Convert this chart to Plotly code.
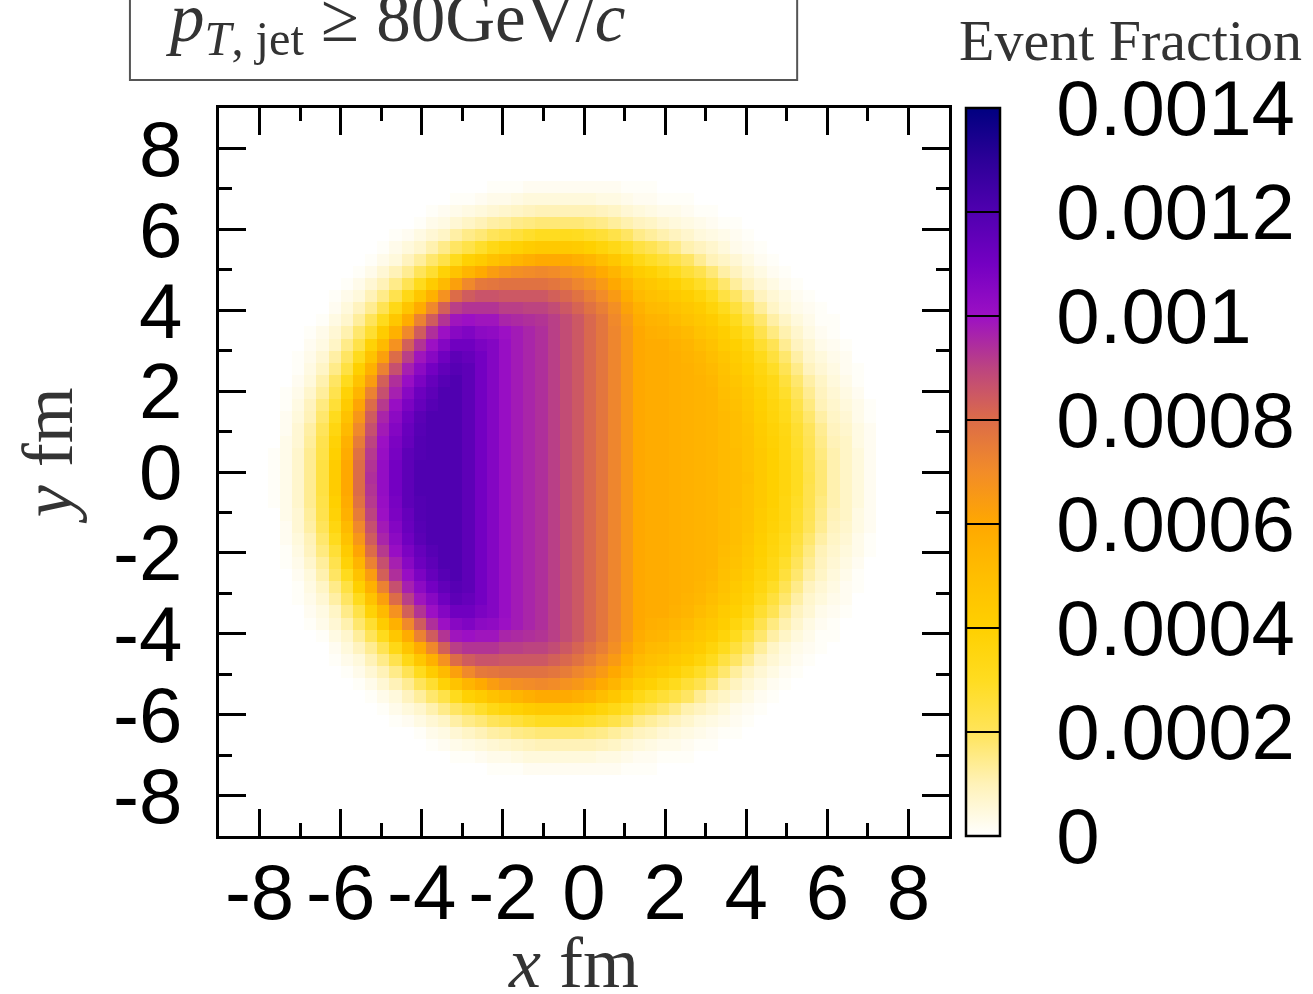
import plotly.graph_objects as go

# ---------------- data ----------------
X_FIRST_BIN_CENTER_FM = -8.85
Y_FIRST_BIN_CENTER_FM = -8.85
BIN_WIDTH_FM = 0.3
VALUE_UNIT = 1e-5   # stored values are event fraction in units of 1e-5

# rows from top (y = +8.85 fm) to bottom (y = -8.85 fm); columns x = -8.85 ... +8.85 fm
EVENT_FRACTION_E5_ROWS = [
    "0 0 0 0 0 0 0 0 0 0 0 0 0 0 0 0 0 0 0 0 0 0 0 0 0 0 0 0 0 0 0 0 0 0 0 0 0 0 0 0 0 0 0 0 0 0 0 0 0 0 0 0 0 0 0 0 0 0 0 0",
    "0 0 0 0 0 0 0 0 0 0 0 0 0 0 0 0 0 0 0 0 0 0 0 0 0 0 0 0 0 0 0 0 0 0 0 0 0 0 0 0 0 0 0 0 0 0 0 0 0 0 0 0 0 0 0 0 0 0 0 0",
    "0 0 0 0 0 0 0 0 0 0 0 0 0 0 0 0 0 0 0 0 0 0 0 0 0 0 0 0 0 0 0 0 0 0 0 0 0 0 0 0 0 0 0 0 0 0 0 0 0 0 0 0 0 0 0 0 0 0 0 0",
    "0 0 0 0 0 0 0 0 0 0 0 0 0 0 0 0 0 0 0 0 0 0 0 0 0 0 0 0 0 0 0 0 0 0 0 0 0 0 0 0 0 0 0 0 0 0 0 0 0 0 0 0 0 0 0 0 0 0 0 0",
    "0 0 0 0 0 0 0 0 0 0 0 0 0 0 0 0 0 0 0 0 0 0 0 0 0 0 0 0 0 0 0 0 0 0 0 0 0 0 0 0 0 0 0 0 0 0 0 0 0 0 0 0 0 0 0 0 0 0 0 0",
    "0 0 0 0 0 0 0 0 0 0 0 0 0 0 0 0 0 0 0 0 0 0 0 0 0 0 0 0 0 0 0 0 0 0 0 0 0 0 0 0 0 0 0 0 0 0 0 0 0 0 0 0 0 0 0 0 0 0 0 0",
    "0 0 0 0 0 0 0 0 0 0 0 0 0 0 0 0 0 0 0 0 0 0 1 1 1 2 2 2 2 2 2 2 2 1 1 1 0 0 0 0 0 0 0 0 0 0 0 0 0 0 0 0 0 0 0 0 0 0 0 0",
    "0 0 0 0 0 0 0 0 0 0 0 0 0 0 0 0 0 0 0 1 1 2 3 3 4 5 5 5 5 5 5 4 4 3 2 2 1 1 1 0 0 0 0 0 0 0 0 0 0 0 0 0 0 0 0 0 0 0 0 0",
    "0 0 0 0 0 0 0 0 0 0 0 0 0 0 0 0 0 1 2 3 4 5 6 7 8 9 10 10 10 10 10 9 8 6 5 4 3 3 2 1 1 0 0 0 0 0 0 0 0 0 0 0 0 0 0 0 0 0 0 0",
    "0 0 0 0 0 0 0 0 0 0 0 0 0 0 0 0 1 3 4 6 8 10 12 13 15 16 17 17 17 17 16 15 13 11 9 8 6 5 4 3 2 1 1 0 0 0 0 0 0 0 0 0 0 0 0 0 0 0 0 0",
    "0 0 0 0 0 0 0 0 0 0 0 0 0 0 1 2 4 6 8 12 15 17 20 22 25 28 30 30 31 30 28 26 23 19 15 13 11 9 7 5 4 3 2 1 0 0 0 0 0 0 0 0 0 0 0 0 0 0 0 0",
    "0 0 0 0 0 0 0 0 0 0 0 0 0 1 3 5 7 11 15 19 23 28 33 37 39 42 44 44 44 43 40 37 33 29 24 21 18 15 11 9 7 5 3 2 1 0 0 0 0 0 0 0 0 0 0 0 0 0 0 0",
    "0 0 0 0 0 0 0 0 0 0 0 0 1 3 5 9 13 18 23 31 39 43 48 51 54 57 59 59 59 57 54 50 45 39 33 29 26 23 19 14 10 8 6 4 2 1 0 0 0 0 0 0 0 0 0 0 0 0 0 0",
    "0 0 0 0 0 0 0 0 0 0 0 1 3 6 10 14 20 27 38 47 54 59 64 67 69 70 71 70 68 66 63 59 54 48 42 39 35 31 26 22 17 12 9 6 4 2 1 0 0 0 0 0 0 0 0 0 0 0 0 0",
    "0 0 0 0 0 0 0 0 0 0 1 3 6 10 15 21 31 42 52 63 71 76 77 78 78 78 78 77 75 72 69 65 60 54 48 45 42 39 34 29 24 18 13 9 6 4 2 1 0 0 0 0 0 0 0 0 0 0 0 0",
    "0 0 0 0 0 0 0 0 0 1 3 5 10 15 22 33 45 56 68 80 84 86 86 85 85 85 85 83 81 78 74 70 65 58 52 49 47 44 41 37 31 24 19 14 9 6 4 2 1 0 0 0 0 0 0 0 0 0 0 0",
    "0 0 0 0 0 0 0 0 0 2 5 9 14 21 33 46 58 71 83 91 93 93 93 91 91 90 90 88 85 82 78 74 69 62 56 52 51 48 45 42 37 31 25 19 13 8 5 3 2 1 0 0 0 0 0 0 0 0 0 0",
    "0 0 0 0 0 0 0 0 1 4 7 13 20 31 45 58 73 84 93 99 100 99 99 96 95 94 93 91 88 85 81 77 71 65 58 55 54 51 48 45 42 37 31 24 18 12 8 5 3 1 1 0 0 0 0 0 0 0 0 0",
    "0 0 0 0 0 0 0 1 3 6 11 18 27 42 56 71 84 94 100 105 107 104 103 100 98 96 94 91 88 85 81 77 72 66 60 57 56 54 52 48 45 41 36 30 22 16 11 7 4 2 1 0 0 0 0 0 0 0 0 0",
    "0 0 0 0 0 0 0 2 4 8 15 23 38 52 68 83 93 100 106 111 111 108 106 101 98 96 94 91 88 85 81 77 72 66 60 58 58 56 54 51 48 43 40 35 27 21 14 9 6 3 2 1 0 0 0 0 0 0 0 0",
    "0 0 0 0 0 0 1 3 6 12 19 31 47 63 80 91 99 105 111 116 114 110 106 101 98 96 94 91 88 85 81 77 72 66 60 58 58 57 55 53 50 46 42 38 32 25 18 12 7 5 3 2 0 0 0 0 0 0 0 0",
    "0 0 0 0 0 0 1 4 8 15 24 40 56 73 87 97 104 110 115 118 116 110 106 101 98 96 94 91 88 85 81 77 72 66 60 58 58 57 56 54 52 48 44 40 35 29 21 15 9 6 4 2 1 0 0 0 0 0 0 0",
    "0 0 0 0 0 0 2 5 11 19 31 47 64 83 94 101 108 114 118 120 116 110 106 101 98 96 94 91 88 85 81 77 72 66 60 58 58 57 56 55 53 49 46 42 37 33 25 18 12 8 5 3 1 0 0 0 0 0 0 0",
    "0 0 0 0 0 1 3 7 13 22 38 54 73 87 97 105 112 116 120 120 116 110 106 101 98 96 94 91 88 85 81 77 72 66 60 58 58 57 56 55 54 50 48 44 39 34 28 20 14 9 6 4 2 0 0 0 0 0 0 0",
    "0 0 0 0 0 1 4 9 16 26 43 61 80 92 101 108 114 118 120 120 116 110 106 101 98 96 94 91 88 85 81 77 72 66 60 58 58 57 56 55 54 51 49 45 40 36 31 23 16 10 7 5 3 1 0 0 0 0 0 0",
    "0 0 0 0 0 2 5 10 18 31 48 66 84 96 104 111 117 120 120 120 116 110 106 101 98 96 94 91 88 85 81 77 72 66 60 58 58 57 56 55 54 52 50 46 41 37 32 25 18 12 8 6 3 1 0 0 0 0 0 0",
    "0 0 0 0 0 2 6 12 20 35 52 71 87 98 106 113 118 120 120 120 116 110 106 101 98 96 94 91 88 85 81 77 72 66 60 58 58 57 56 55 54 52 50 47 42 38 34 27 20 14 9 7 4 2 0 0 0 0 0 0",
    "0 0 0 0 0 3 6 13 22 38 56 75 90 100 108 114 119 120 120 120 116 110 106 101 98 96 94 91 88 85 81 77 72 66 60 58 58 57 56 55 54 52 50 48 43 39 35 28 21 15 10 8 4 2 0 0 0 0 0 0",
    "0 0 0 0 1 3 7 14 23 40 58 78 92 101 109 116 119 120 120 120 116 110 106 101 98 96 94 91 88 85 81 77 72 66 60 58 58 57 56 55 54 52 51 48 44 40 35 29 22 16 11 8 5 2 0 0 0 0 0 0",
    "0 0 0 0 1 3 7 14 24 42 60 80 93 102 110 116 120 120 120 120 116 110 106 101 98 96 94 91 88 85 81 77 72 66 60 58 58 57 56 55 54 52 51 48 44 40 36 30 22 17 11 8 5 2 0 0 0 0 0 0",
    "0 0 0 0 1 3 7 14 24 42 60 80 94 102 110 116 120 120 120 120 116 110 106 101 98 96 94 91 88 85 81 77 72 66 60 58 58 57 56 55 54 52 51 49 44 40 36 30 23 17 11 8 5 2 0 0 0 0 0 0",
    "0 0 0 0 1 3 7 14 24 42 60 80 93 102 110 116 120 120 120 120 116 110 106 101 98 96 94 91 88 85 81 77 72 66 60 58 58 57 56 55 54 52 51 48 44 40 36 30 22 17 11 8 5 2 0 0 0 0 0 0",
    "0 0 0 0 1 3 7 14 23 40 58 78 92 101 109 116 119 120 120 120 116 110 106 101 98 96 94 91 88 85 81 77 72 66 60 58 58 57 56 55 54 52 51 48 44 40 35 29 22 16 11 8 5 2 0 0 0 0 0 0",
    "0 0 0 0 0 3 6 13 22 38 56 75 90 100 108 114 119 120 120 120 116 110 106 101 98 96 94 91 88 85 81 77 72 66 60 58 58 57 56 55 54 52 50 48 43 39 35 28 21 15 10 8 4 2 0 0 0 0 0 0",
    "0 0 0 0 0 2 6 12 20 35 52 71 87 98 106 113 118 120 120 120 116 110 106 101 98 96 94 91 88 85 81 77 72 66 60 58 58 57 56 55 54 52 50 47 42 38 34 27 20 14 9 7 4 2 0 0 0 0 0 0",
    "0 0 0 0 0 2 5 10 18 31 48 66 84 96 104 111 117 120 120 120 116 110 106 101 98 96 94 91 88 85 81 77 72 66 60 58 58 57 56 55 54 52 50 46 41 37 32 25 18 12 8 6 3 1 0 0 0 0 0 0",
    "0 0 0 0 0 1 4 9 16 26 43 61 80 92 101 108 114 118 120 120 116 110 106 101 98 96 94 91 88 85 81 77 72 66 60 58 58 57 56 55 54 51 49 45 40 36 31 23 16 10 7 5 3 1 0 0 0 0 0 0",
    "0 0 0 0 0 1 3 7 13 22 38 54 73 87 97 105 112 116 120 120 116 110 106 101 98 96 94 91 88 85 81 77 72 66 60 58 58 57 56 55 54 50 48 44 39 34 28 20 14 9 6 4 2 0 0 0 0 0 0 0",
    "0 0 0 0 0 0 2 5 11 19 31 47 64 83 94 101 108 114 118 120 116 110 106 101 98 96 94 91 88 85 81 77 72 66 60 58 58 57 56 55 53 49 46 42 37 33 25 18 12 8 5 3 1 0 0 0 0 0 0 0",
    "0 0 0 0 0 0 1 4 8 15 24 40 56 73 87 97 104 110 115 118 116 110 106 101 98 96 94 91 88 85 81 77 72 66 60 58 58 57 56 54 52 48 44 40 35 29 21 15 9 6 4 2 1 0 0 0 0 0 0 0",
    "0 0 0 0 0 0 1 3 6 12 19 31 47 63 80 91 99 105 111 116 114 110 106 101 98 96 94 91 88 85 81 77 72 66 60 58 58 57 55 53 50 46 42 38 32 25 18 12 7 5 3 2 0 0 0 0 0 0 0 0",
    "0 0 0 0 0 0 0 2 4 8 15 23 38 52 68 83 93 100 106 111 111 108 106 101 98 96 94 91 88 85 81 77 72 66 60 58 58 56 54 51 48 43 40 35 27 21 14 9 6 3 2 1 0 0 0 0 0 0 0 0",
    "0 0 0 0 0 0 0 1 3 6 11 18 27 42 56 71 84 94 100 105 107 104 103 100 98 96 94 91 88 85 81 77 72 66 60 57 56 54 52 48 45 41 36 30 22 16 11 7 4 2 1 0 0 0 0 0 0 0 0 0",
    "0 0 0 0 0 0 0 0 1 4 7 13 20 31 45 58 73 84 93 99 100 99 99 96 95 94 93 91 88 85 81 77 71 65 58 55 54 51 48 45 42 37 31 24 18 12 8 5 3 1 1 0 0 0 0 0 0 0 0 0",
    "0 0 0 0 0 0 0 0 0 2 5 9 14 21 33 46 58 71 83 91 93 93 93 91 91 90 90 88 85 82 78 74 69 62 56 52 51 48 45 42 37 31 25 19 13 8 5 3 2 1 0 0 0 0 0 0 0 0 0 0",
    "0 0 0 0 0 0 0 0 0 1 3 5 10 15 22 33 45 56 68 80 84 86 86 85 85 85 85 83 81 78 74 70 65 58 52 49 47 44 41 37 31 24 19 14 9 6 4 2 1 0 0 0 0 0 0 0 0 0 0 0",
    "0 0 0 0 0 0 0 0 0 0 1 3 6 10 15 21 31 42 52 63 71 76 77 78 78 78 78 77 75 72 69 65 60 54 48 45 42 39 34 29 24 18 13 9 6 4 2 1 0 0 0 0 0 0 0 0 0 0 0 0",
    "0 0 0 0 0 0 0 0 0 0 0 1 3 6 10 14 20 27 38 47 54 59 64 67 69 70 71 70 68 66 63 59 54 48 42 39 35 31 26 22 17 12 9 6 4 2 1 0 0 0 0 0 0 0 0 0 0 0 0 0",
    "0 0 0 0 0 0 0 0 0 0 0 0 1 3 5 9 13 18 23 31 39 43 48 51 54 57 59 59 59 57 54 50 45 39 33 29 26 23 19 14 10 8 6 4 2 1 0 0 0 0 0 0 0 0 0 0 0 0 0 0",
    "0 0 0 0 0 0 0 0 0 0 0 0 0 1 3 5 7 11 15 19 23 28 33 37 39 42 44 44 44 43 40 37 33 29 24 21 18 15 11 9 7 5 3 2 1 0 0 0 0 0 0 0 0 0 0 0 0 0 0 0",
    "0 0 0 0 0 0 0 0 0 0 0 0 0 0 1 2 4 6 8 12 15 17 20 22 25 28 30 30 31 30 28 26 23 19 15 13 11 9 7 5 4 3 2 1 0 0 0 0 0 0 0 0 0 0 0 0 0 0 0 0",
    "0 0 0 0 0 0 0 0 0 0 0 0 0 0 0 0 1 3 4 6 8 10 12 13 15 16 17 17 17 17 16 15 13 11 9 8 6 5 4 3 2 1 1 0 0 0 0 0 0 0 0 0 0 0 0 0 0 0 0 0",
    "0 0 0 0 0 0 0 0 0 0 0 0 0 0 0 0 0 1 2 3 4 5 6 7 8 9 10 10 10 10 10 9 8 6 5 4 3 3 2 1 1 0 0 0 0 0 0 0 0 0 0 0 0 0 0 0 0 0 0 0",
    "0 0 0 0 0 0 0 0 0 0 0 0 0 0 0 0 0 0 0 1 1 2 3 3 4 5 5 5 5 5 5 4 4 3 2 2 1 1 1 0 0 0 0 0 0 0 0 0 0 0 0 0 0 0 0 0 0 0 0 0",
    "0 0 0 0 0 0 0 0 0 0 0 0 0 0 0 0 0 0 0 0 0 0 1 1 1 2 2 2 2 2 2 2 2 1 1 1 0 0 0 0 0 0 0 0 0 0 0 0 0 0 0 0 0 0 0 0 0 0 0 0",
    "0 0 0 0 0 0 0 0 0 0 0 0 0 0 0 0 0 0 0 0 0 0 0 0 0 0 0 0 0 0 0 0 0 0 0 0 0 0 0 0 0 0 0 0 0 0 0 0 0 0 0 0 0 0 0 0 0 0 0 0",
    "0 0 0 0 0 0 0 0 0 0 0 0 0 0 0 0 0 0 0 0 0 0 0 0 0 0 0 0 0 0 0 0 0 0 0 0 0 0 0 0 0 0 0 0 0 0 0 0 0 0 0 0 0 0 0 0 0 0 0 0",
    "0 0 0 0 0 0 0 0 0 0 0 0 0 0 0 0 0 0 0 0 0 0 0 0 0 0 0 0 0 0 0 0 0 0 0 0 0 0 0 0 0 0 0 0 0 0 0 0 0 0 0 0 0 0 0 0 0 0 0 0",
    "0 0 0 0 0 0 0 0 0 0 0 0 0 0 0 0 0 0 0 0 0 0 0 0 0 0 0 0 0 0 0 0 0 0 0 0 0 0 0 0 0 0 0 0 0 0 0 0 0 0 0 0 0 0 0 0 0 0 0 0",
    "0 0 0 0 0 0 0 0 0 0 0 0 0 0 0 0 0 0 0 0 0 0 0 0 0 0 0 0 0 0 0 0 0 0 0 0 0 0 0 0 0 0 0 0 0 0 0 0 0 0 0 0 0 0 0 0 0 0 0 0",
]

AXIS_TICK_VALUES = [-8, -6, -4, -2, 0, 2, 4, 6, 8]
AXIS_TICK_LABELS = ["-8", "-6", "-4", "-2", "0", "2", "4", "6", "8"]
AXIS_MINOR_TICKS = [-7, -5, -3, -1, 1, 3, 5, 7]
AXIS_RANGE = [-9, 9]

COLORBAR_TICK_VALUES = [0, 0.0002, 0.0004, 0.0006, 0.0008, 0.001, 0.0012, 0.0014]
COLORBAR_TICK_LABELS = ["0", "0.0002", "0.0004", "0.0006", "0.0008", "0.001", "0.0012", "0.0014"]
Z_MAX = 0.0014

COLORSCALE = [
    [0 / 14, "#FFFFFF"], [1 / 14, "#FFF2B8"], [2 / 14, "#FFE45A"], [3 / 14, "#FFDC20"],
    [4 / 14, "#FFD000"], [5 / 14, "#FFBE00"], [6 / 14, "#FFA800"], [7 / 14, "#F28C28"],
    [8 / 14, "#DC6C48"], [9 / 14, "#BC4480"], [10 / 14, "#9C10C4"], [11 / 14, "#7400C2"],
    [12 / 14, "#5000B0"], [13 / 14, "#2C0098"], [14 / 14, "#000080"],
]

# ---------------- figure ----------------
rows_top_to_bottom = [[int(v) * VALUE_UNIT for v in r.split()] for r in EVENT_FRACTION_E5_ROWS]
z = rows_top_to_bottom[::-1]   # bottom row first (y ascending)

SANS = "Liberation Sans"
SERIF = "Liberation Serif"

fig = go.Figure(
    go.Heatmap(
        z=z,
        x0=X_FIRST_BIN_CENTER_FM, dx=BIN_WIDTH_FM,
        y0=Y_FIRST_BIN_CENTER_FM, dy=BIN_WIDTH_FM,
        zmin=0, zmax=Z_MAX, zsmooth=False,
        colorscale=COLORSCALE,
        colorbar=dict(
            x=1.0233, xanchor="left", y=0.5, yanchor="middle",
            len=1.0, lenmode="fraction", thickness=34,
            xpad=0, ypad=0,
            outlinewidth=2.5, outlinecolor="black",
            tickmode="array", tickvals=COLORBAR_TICK_VALUES,
            ticktext=["\u2002" + t for t in COLORBAR_TICK_LABELS],
            ticks="inside", ticklen=34, tickwidth=2, tickcolor="black",
            tickfont=dict(family=SANS, size=78, color="black"),
        ),
        hoverinfo="skip",
    )
)

axis_common = dict(
    range=AXIS_RANGE, autorange=False,
    showline=True, linecolor="black", linewidth=3, mirror="ticks",
    ticks="inside", ticklen=27, tickwidth=2.5, tickcolor="black",
    tickmode="array", tickvals=AXIS_TICK_VALUES, ticktext=AXIS_TICK_LABELS,
    tickfont=dict(family=SANS, size=78, color="black"),
    tickangle=0,
    showgrid=False, zeroline=False, automargin=False,
    minor=dict(ticks="inside", ticklen=13, tickwidth=2.5, tickcolor="black",
               tickmode="array", tickvals=AXIS_MINOR_TICKS, showgrid=False),
)

fig.update_layout(
    template="none",
    width=1313, height=994, autosize=False,
    margin=dict(l=219, r=364, t=108, b=158, pad=0, autoexpand=False),
    paper_bgcolor="white", plot_bgcolor="white",
    xaxis=dict(**axis_common, ticklabelstandoff=-14),
    yaxis=dict(**axis_common, ticklabelstandoff=18),
    showlegend=False,
)

fig.add_shape(type="rect", xref="paper", yref="paper",
              x0=-0.122, x1=0.792, y0=1.0385, y1=1.2,
              line=dict(color="#555555", width=2), fillcolor="rgba(0,0,0,0)")

fig.add_annotation(xref="paper", yref="paper", x=-0.0767, y=1.118,
                   xanchor="left", yanchor="middle", showarrow=False,
                   text="<i>p</i><sub><i>T</i>, jet</sub> \u2265 80GeV/<i>c</i>",
                   font=dict(family=SERIF, size=69, color="#333333"))

fig.add_annotation(xref="paper", yref="paper", x=0.485, y=-0.1745,
                   xanchor="center", yanchor="middle", showarrow=False,
                   text="<i>x</i> fm", font=dict(family=SERIF, size=72, color="#333333"))

fig.add_annotation(xref="paper", yref="paper", x=-0.234, y=0.522,
                   xanchor="center", yanchor="middle", showarrow=False, textangle=-90,
                   text="<i>y</i> fm", font=dict(family=SERIF, size=72, color="#333333"))

fig.add_annotation(xref="paper", yref="paper", x=1.249, y=1.093,
                   xanchor="center", yanchor="middle", showarrow=False,
                   text="Event Fraction", font=dict(family=SERIF, size=58, color="#333333"))

fig.write_html("out.html")
